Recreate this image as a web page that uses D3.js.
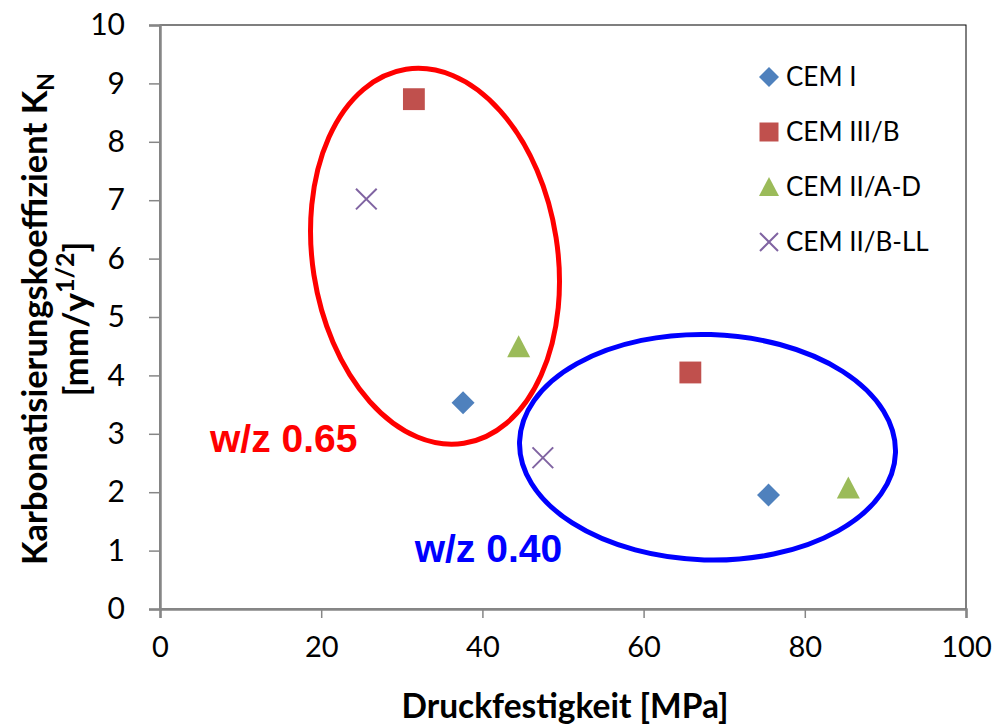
<!DOCTYPE html>
<html>
<head>
<meta charset="utf-8">
<script src="https://cdn.jsdelivr.net/npm/d3@7"></script>
<style>
  html, body { margin: 0; padding: 0; background: #fff; }
  svg { display: block; }
</style>
</head>
<body>
<svg id="chart" width="996" height="727"></svg>
<script>
// Cement types and their colours / marker shapes
const cementTypes = ["CEM I", "CEM III/B", "CEM II/A-D", "CEM II/B-LL"];
const cementColors = ["#4F81BD", "#C0504D", "#9BBB59", "#8064A2"];
const cementShapes = ["diamond", "square", "triangle", "cross"];

// Compressive strength [MPa] per cement type (w/z 0.65 first, then w/z 0.40)
const strengthCEM_I = [37.6, 75.5];
const strengthCEM_IIIB = [31.5, 65.8];
const strengthCEM_IIAD = [44.5, 85.4];
const strengthCEM_IIBLL = [25.6, 47.5];

// Carbonation coefficient K_N [mm/y^1/2]
const kNCEM_I = [3.53, 1.95];
const kNCEM_IIIB = [8.73, 4.05];
const kNCEM_IIAD = [4.49, 2.07];
const kNCEM_IIBLL = [7.02, 2.59];

// Axis ticks
const xTicks = [0, 20, 40, 60, 80, 100];
const yTicks = [0, 1, 2, 3, 4, 5, 6, 7, 8, 9, 10];

// Group annotations: ellipse centre in data units, labels
const groupLabels = ["w/z 0.65", "w/z 0.40"];
const groupColors = ["#FF0000", "#0000FF"];
const groupCenterX = [34.12, 67.93];
const groupCenterY = [6.04, 2.77];
const groupRadiusX = [15.2, 23.33];  // semi-axis along rotated x, in MPa
const groupRadiusY = [3.24, 1.93];   // semi-axis along rotated y, in K_N units
const groupAngle = [-8.8, 1.7];      // degrees
const groupLabelX = [6.2, 31.6];
const groupLabelY = [2.69, 0.80];

const seriesX = [strengthCEM_I, strengthCEM_IIIB, strengthCEM_IIAD, strengthCEM_IIBLL];
const seriesY = [kNCEM_I, kNCEM_IIIB, kNCEM_IIAD, kNCEM_IIBLL];

const W = 996, H = 727;
const margin = { top: 25, right: 30, bottom: 118, left: 160 };
const svg = d3.select("#chart");

const x = d3.scaleLinear().domain([0, 100]).range([margin.left, W - margin.right]);
const y = d3.scaleLinear().domain([0, 10]).range([H - margin.bottom, margin.top]);

const axisGrey = "#868686";
const font = "Lato, 'Open Sans', sans-serif";

// Plot area frame (top and right)
svg.append("rect")
  .attr("x", x(0)).attr("y", y(10))
  .attr("width", x(100) - x(0)).attr("height", y(0) - y(10))
  .attr("fill", "none").attr("stroke", "#000").attr("stroke-width", 1);

// X axis
const xAxis = svg.append("g")
  .attr("transform", `translate(0,${y(0)})`)
  .call(d3.axisBottom(x).tickValues(xTicks).tickSize(9).tickPadding(18).tickFormat(d3.format("d")));
xAxis.select(".domain").attr("stroke", axisGrey).attr("stroke-width", 2.5);
xAxis.selectAll(".tick line").attr("stroke", axisGrey).attr("stroke-width", 1.5);
xAxis.selectAll(".tick text")
  .attr("font-family", font).attr("font-size", 29).attr("fill", "#000");

// Y axis
const yAxis = svg.append("g")
  .attr("transform", `translate(${x(0)},0)`)
  .call(d3.axisLeft(y).tickValues(yTicks).tickSize(11).tickPadding(24).tickFormat(d3.format("d")));
yAxis.select(".domain").attr("stroke", axisGrey).attr("stroke-width", 2.5);
yAxis.selectAll(".tick line").attr("stroke", axisGrey).attr("stroke-width", 1.5);
yAxis.selectAll(".tick text")
  .attr("font-family", font).attr("font-size", 30).attr("fill", "#000");

// Axis titles
svg.append("text")
  .attr("x", 565).attr("y", 718)
  .attr("text-anchor", "middle")
  .attr("font-family", font).attr("font-weight", "bold").attr("font-size", 33.5)
  .text("Druckfestigkeit [MPa]");

const yTitle = svg.append("g")
  .attr("transform", `translate(0,${(y(0) + y(10)) / 2 + 2}) rotate(-90)`);
const yt1 = yTitle.append("text")
  .attr("x", 0).attr("y", 47).attr("text-anchor", "middle")
  .attr("font-family", font).attr("font-weight", "bold").attr("font-size", 34.5);
yt1.append("tspan").text("Karbonatisierungskoeffizient K");
yt1.append("tspan").attr("font-size", 23).attr("dy", 7).text("N");
const yt2 = yTitle.append("text")
  .attr("x", 0).attr("y", 88).attr("text-anchor", "middle")
  .attr("font-family", font).attr("font-weight", "bold").attr("font-size", 35);
yt2.append("tspan").text("[mm/y");
yt2.append("tspan").attr("font-size", 25).attr("dy", -14).text("1/2");
yt2.append("tspan").attr("dy", 14).text("]");

// Group ellipses
groupLabels.forEach((lab, i) => {
  const cx = x(groupCenterX[i]), cy = y(groupCenterY[i]);
  const rx = x(groupRadiusX[i]) - x(0), ry = y(0) - y(groupRadiusY[i]);
  svg.append("ellipse")
    .attr("cx", 0).attr("cy", 0).attr("rx", rx).attr("ry", ry)
    .attr("transform", `translate(${cx},${cy}) rotate(${groupAngle[i]})`)
    .attr("fill", "none").attr("stroke", groupColors[i]).attr("stroke-width", 5);
  svg.append("text")
    .attr("x", x(groupLabelX[i])).attr("y", y(groupLabelY[i]))
    .attr("font-family", "'Liberation Sans', Arial, sans-serif")
    .attr("font-weight", "bold").attr("font-size", 39)
    .attr("fill", groupColors[i])
    .text(lab);
});

// Marker path generator, centred at origin
function markerPath(shape, s) {
  const h = s / 2;
  if (shape === "diamond") return `M0,${-h}L${h},0L0,${h}L${-h},0Z`;
  if (shape === "square") { const q = h * 0.95; return `M${-q},${-q}H${q}V${q}H${-q}Z`; }
  if (shape === "triangle") return `M0,${-h}L${h},${h * 0.9}L${-h},${h * 0.9}Z`;
  const c = h * 0.9;
  return `M${-c},${-c}L${c},${c}M${c},${-c}L${-c},${c}`;
}
function drawMarker(g, i, size) {
  const shape = cementShapes[i];
  if (shape === "cross") {
    g.append("path").attr("d", markerPath(shape, size))
      .attr("fill", "none").attr("stroke", cementColors[i]).attr("stroke-width", 2);
  } else {
    g.append("path").attr("d", markerPath(shape, size))
      .attr("fill", cementColors[i]);
  }
}

// Data points
cementTypes.forEach((t, i) => {
  seriesX[i].forEach((v, j) => {
    const g = svg.append("g")
      .attr("transform", `translate(${x(v)},${y(seriesY[i][j])})`);
    drawMarker(g, i, 23);
  });
});

// Legend
const legend = svg.append("g").attr("transform", "translate(769,77)");
cementTypes.forEach((t, i) => {
  const row = legend.append("g").attr("transform", `translate(0,${i * 55})`);
  drawMarker(row, i, 20);
  row.append("text")
    .attr("x", 17).attr("y", 0).attr("dy", "0.35em")
    .attr("font-family", font).attr("font-size", 26).attr("fill", "#000")
    .text(t);
});
</script>
</body>
</html>
